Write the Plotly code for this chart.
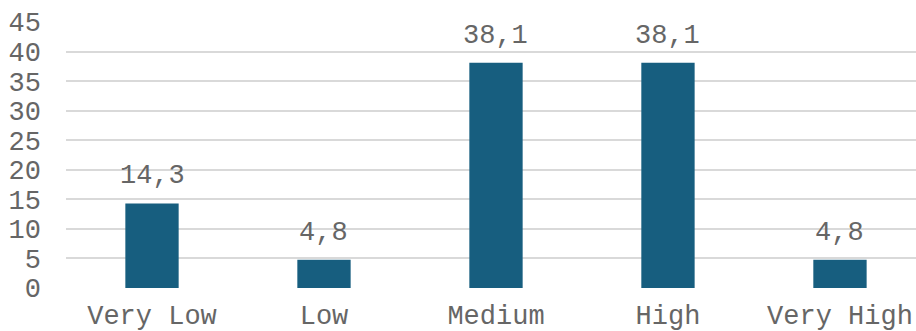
import plotly.graph_objects as go

categories = ["Very Low", "Low", "Medium", "High", "Very High"]
values = [14.3, 4.8, 38.1, 38.1, 4.8]
labels = ["14,3", "4,8", "38,1", "38,1", "4,8"]
y_ticks = [0, 5, 10, 15, 20, 25, 30, 35, 40, 45]

FONT = "Liberation Mono, Courier New, monospace"
GRAY = "#666666"
SIZE = 27

fig = go.Figure(go.Bar(
    x=categories, y=values,
    marker=dict(color="#175E7F", line=dict(width=0)),
    width=0.31,
))
for c, v, t in zip(categories, values, labels):
    fig.add_annotation(x=c, y=v, text=t, showarrow=False, yanchor="bottom", yshift=10,
                       font=dict(family=FONT, size=SIZE, color=GRAY))
fig.update_layout(
    width=916, height=331, margin=dict(l=66, r=0, t=22, b=43),
    paper_bgcolor="white", plot_bgcolor="white", showlegend=False,
    font=dict(family=FONT, size=SIZE, color=GRAY),
)
fig.update_xaxes(range=[-0.5, 4.442], showgrid=False, showline=False, zeroline=False,
                 tickfont=dict(family=FONT, size=SIZE, color=GRAY), ticks="", ticklabelstandoff=8)
fig.update_yaxes(range=[0, 45], tickvals=y_ticks, showgrid=True, gridcolor="#D9D9D9", gridwidth=2,
                 zeroline=False, showline=False, ticks="", ticklabelstandoff=24,
                 tickfont=dict(family=FONT, size=SIZE, color=GRAY))
fig.write_html("out.html")
